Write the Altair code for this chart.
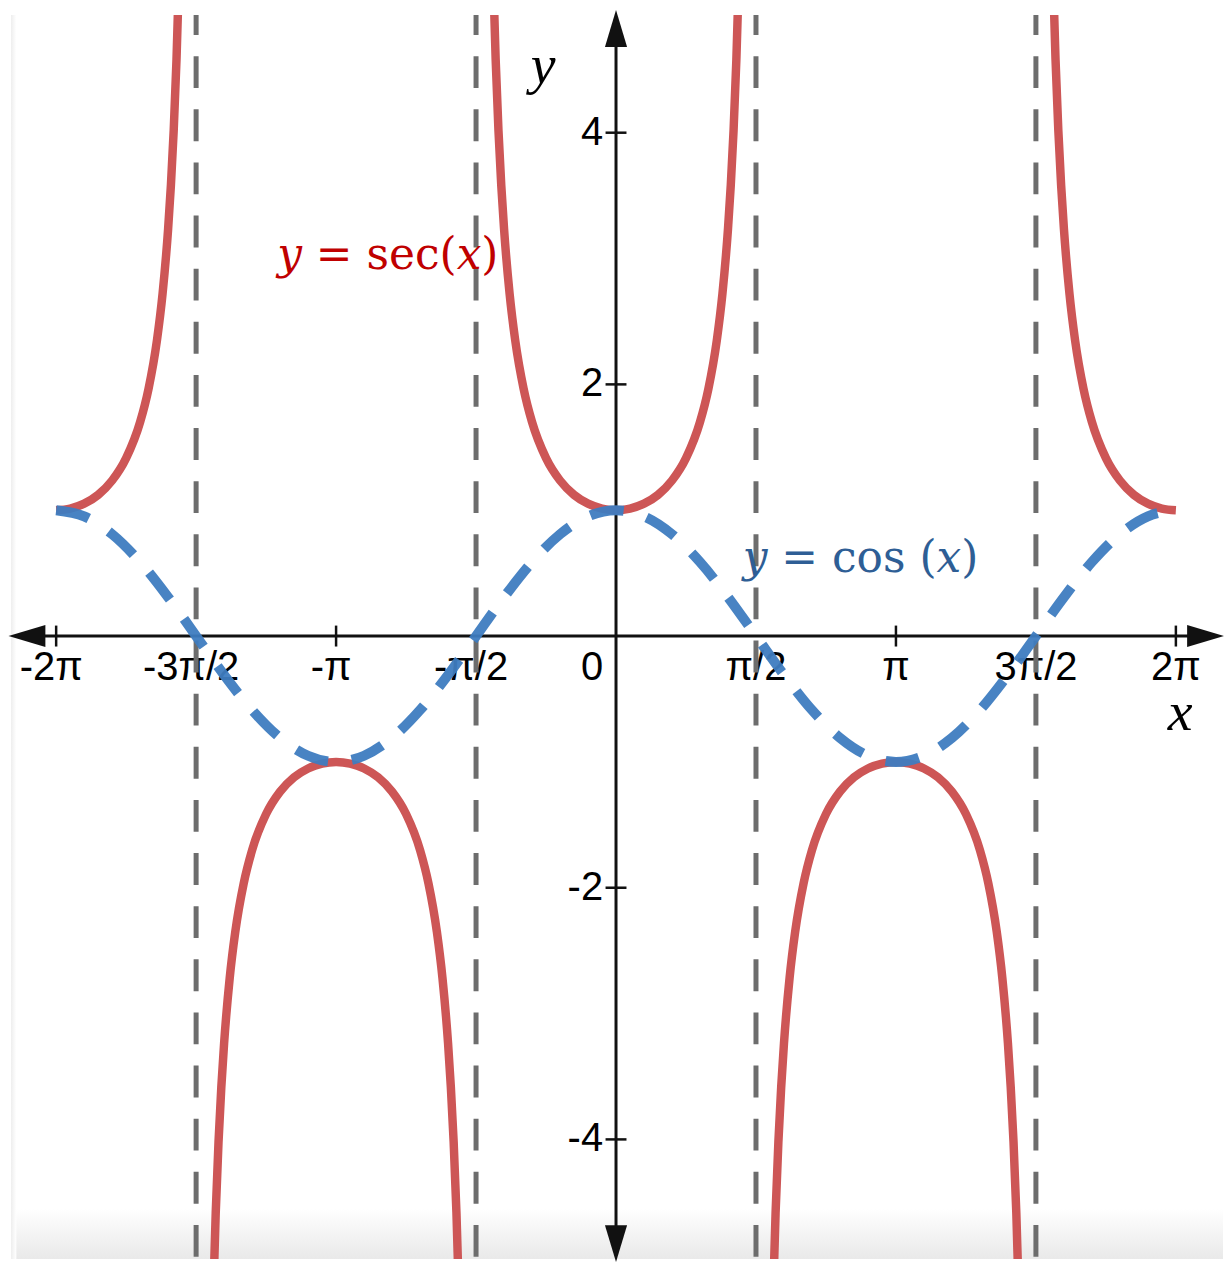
import math
import altair as alt
import pandas as pd

PI = math.pi

# visible window of the plot (data units, x in radians)
XMIN, XMAX = -6.790, 6.812
YMIN, YMAX = -4.950, 4.935

# y = cos(x), x given in multiples of pi
COS_X_PI = [-2.0, -1.9, -1.8, -1.7, -1.6, -1.5, -1.4, -1.3, -1.2, -1.1, -1.0,
            -0.9, -0.8, -0.7, -0.6, -0.5, -0.4, -0.3, -0.2, -0.1, 0.0,
            0.1, 0.2, 0.3, 0.4, 0.5, 0.6, 0.7, 0.8, 0.9, 1.0,
            1.1, 1.2, 1.3, 1.4, 1.5, 1.6, 1.7, 1.8, 1.9, 2.0]
COS_Y = [1.0, 0.951, 0.809, 0.588, 0.309, 0.0, -0.309, -0.588, -0.809, -0.951, -1.0,
         -0.951, -0.809, -0.588, -0.309, 0.0, 0.309, 0.588, 0.809, 0.951, 1.0,
         0.951, 0.809, 0.588, 0.309, 0.0, -0.309, -0.588, -0.809, -0.951, -1.0,
         -0.951, -0.809, -0.588, -0.309, 0.0, 0.309, 0.588, 0.809, 0.951, 1.0]

# y = sec(x): one branch shape (offset from branch centre in multiples of pi, |y|)
SEC_OFFSET_PI = [0.0, 0.05, 0.1, 0.15, 0.2, 0.25, 0.3, 0.33, 0.36, 0.38, 0.4, 0.41, 0.42, 0.43, 0.44, 0.45]
SEC_MAG = [1.0, 1.013, 1.052, 1.122, 1.236, 1.414, 1.701, 1.965, 2.349, 2.717, 3.236, 3.585, 4.021, 4.585, 5.336, 6.393]
SEC_BRANCH_CENTER_PI = [-2, -1, 0, 1, 2]
SEC_BRANCH_SIGN = [1, -1, 1, -1, 1]

# vertical asymptotes (multiples of pi)
ASYMPTOTES_PI = [-1.5, -0.5, 0.5, 1.5]

# axis ticks and labels
X_TICKS_PI = [-2.0, -1.0, 1.0, 2.0]
X_LABEL_PI = [-2.0, -1.5, -1.0, -0.5, 0.0, 0.5, 1.0, 1.5, 2.0]
X_LABEL_TEXT = ["-2π", "-3π/2", "-π", "-π/2", "0", "π/2", "π", "3π/2", "2π"]
Y_TICKS = [4, 2, -2, -4]
Y_LABEL_TEXT = ["4", "2", "-2", "-4"]

# ---------- tables ----------
cos_df = pd.DataFrame({"x": [v * PI for v in COS_X_PI], "y": COS_Y})

rows = []
for b, (c, s) in enumerate(zip(SEC_BRANCH_CENTER_PI, SEC_BRANCH_SIGN)):
    pts = [(-d, m) for d, m in zip(reversed(SEC_OFFSET_PI), reversed(SEC_MAG)) if d > 0]
    pts += list(zip(SEC_OFFSET_PI, SEC_MAG))
    i = 0
    for off, m in pts:
        xp = c + off
        if -2.0 - 1e-9 <= xp <= 2.0 + 1e-9:
            rows.append({"x": xp * PI, "y": s * m, "branch": b, "order": i})
            i += 1
sec_df = pd.DataFrame(rows)

asym_df = pd.DataFrame({"x": [v * PI for v in ASYMPTOTES_PI]})
xtick_df = pd.DataFrame({"x": [v * PI for v in X_TICKS_PI], "y": [0] * len(X_TICKS_PI)})
xlab_df = pd.DataFrame({"x": [v * PI for v in X_LABEL_PI], "y": [0] * len(X_LABEL_PI),
                        "v": X_LABEL_PI, "label": X_LABEL_TEXT})
ytick_df = pd.DataFrame({"x": [0] * len(Y_TICKS), "y": Y_TICKS, "label": Y_LABEL_TEXT})

xs = alt.Scale(domain=[XMIN, XMAX], nice=False, zero=False)
ys = alt.Scale(domain=[YMIN, YMAX], nice=False, zero=False)


def X(f="x"):
    return alt.X(f, type="quantitative", scale=xs, axis=None)


def Y(f="y"):
    return alt.Y(f, type="quantitative", scale=ys, axis=None)


def XD(v):
    return alt.XDatum(v, scale=xs, axis=None)


def YD(v):
    return alt.YDatum(v, scale=ys, axis=None)


base = alt.Chart(pd.DataFrame({"a": [0]}))

# faint screenshot shading at the bottom and left edges
bottom_shade = base.mark_rect(
    color=alt.Gradient(gradient="linear",
                       stops=[alt.GradientStop(color="#ffffff", offset=0),
                              alt.GradientStop(color="#e9e9e9", offset=1)],
                       x1=0, x2=0, y1=0, y2=1)
).encode(x=XD(XMIN), x2=alt.X2Datum(XMAX), y=YD(-4.55), y2=alt.Y2Datum(YMIN))

left_shade = base.mark_rect(
    color=alt.Gradient(gradient="linear",
                       stops=[alt.GradientStop(color="#eeeeee", offset=0),
                              alt.GradientStop(color="#ffffff", offset=1)],
                       x1=0, x2=1, y1=0, y2=0)
).encode(x=XD(XMIN), x2=alt.X2Datum(XMIN + 0.06), y=YD(YMIN), y2=alt.Y2Datum(YMAX))

# axes
AX = "#111111"
X_ARROW_L, X_ARROW_R = -6.611, 6.616
Y_ARROW_T, Y_ARROW_B = 4.828, -4.828
x_axis = base.mark_rule(color=AX, strokeWidth=3).encode(
    x=XD(X_ARROW_L), x2=alt.X2Datum(X_ARROW_R), y=YD(0))
y_axis = base.mark_rule(color=AX, strokeWidth=3).encode(
    x=XD(0), y=YD(Y_ARROW_T), y2=alt.Y2Datum(Y_ARROW_B))

ARROW_SIZE = 1369
arrow_up = base.mark_point(shape="M0,-1L0.6,1L-0.6,1Z", filled=True, color=AX, opacity=1,
                           size=ARROW_SIZE).encode(x=XD(0), y=YD(Y_ARROW_T))
arrow_down = base.mark_point(shape="M0,1L0.6,-1L-0.6,-1Z", filled=True, color=AX, opacity=1,
                             size=ARROW_SIZE).encode(x=XD(0), y=YD(Y_ARROW_B))
arrow_left = base.mark_point(shape="M-1,0L1,-0.6L1,0.6Z", filled=True, color=AX, opacity=1,
                             size=ARROW_SIZE).encode(x=XD(X_ARROW_L), y=YD(0))
arrow_right = base.mark_point(shape="M1,0L-1,-0.6L-1,0.6Z", filled=True, color=AX, opacity=1,
                              size=ARROW_SIZE).encode(x=XD(X_ARROW_R), y=YD(0))

xticks = alt.Chart(xtick_df).mark_tick(orient="vertical", size=21, thickness=2.5, color=AX,
                                       opacity=1).encode(x=X(), y=Y())
yticks = alt.Chart(ytick_df).mark_tick(orient="horizontal", size=21, thickness=2.5, color=AX,
                                       opacity=1).encode(x=X(), y=Y())

LABEL_FONT = "Liberation Sans"
LABEL_SIZE = 40
xlab = alt.Chart(xlab_df)
xlab_neg = xlab.transform_filter(alt.datum.v < 0).mark_text(
    font=LABEL_FONT, fontSize=LABEL_SIZE, color="#000000", align="center",
    baseline="alphabetic", dx=-5, dy=44).encode(x=X(), y=Y(), text="label:N")
xlab_pos = xlab.transform_filter(alt.datum.v > 0).mark_text(
    font=LABEL_FONT, fontSize=LABEL_SIZE, color="#000000", align="center",
    baseline="alphabetic", dy=44).encode(x=X(), y=Y(), text="label:N")
xlab_zero = xlab.transform_filter(alt.datum.v == 0).mark_text(
    font=LABEL_FONT, fontSize=LABEL_SIZE, color="#000000", align="right",
    baseline="alphabetic", dx=-13, dy=44).encode(x=X(), y=Y(), text="label:N")
ylab = alt.Chart(ytick_df).mark_text(
    font=LABEL_FONT, fontSize=LABEL_SIZE, color="#000000", align="right",
    baseline="alphabetic", dx=-13, dy=12).encode(x=X(), y=Y(), text="label:N")

# axis titles
title_y = base.mark_text(text="y", font="Liberation Serif", fontStyle="italic", fontSize=56,
                         color="#000000", align="center", baseline="alphabetic").encode(
    x=XD(-0.817), y=YD(4.396))
title_x = base.mark_text(text="x", font="Liberation Serif", fontStyle="italic", fontSize=56,
                         color="#000000", align="center", baseline="alphabetic").encode(
    x=XD(6.331), y=YD(-0.745))

# asymptotes
asym = alt.Chart(asym_df).mark_rule(color="#6d6d6d", strokeWidth=5, strokeDash=[32, 21.3],
                                    strokeDashOffset=12).encode(
    x=X(), y=YD(YMAX), y2=alt.Y2Datum(YMIN))

sec_line = alt.Chart(sec_df).mark_line(color="#cd5656", strokeWidth=8.5, clip=True,
                                       interpolate="monotone").encode(
    x=X(), y=Y(), detail="branch:N", order="order:Q")

cos_line = alt.Chart(cos_df).mark_line(color="#3e7cc0", strokeWidth=10, clip=True,
                                       strokeDash=[34, 24], strokeCap="butt",
                                       strokeOpacity=0.95, interpolate="monotone").encode(
    x=X(), y=Y())

# annotations
sec_text = base.mark_text(text="𝑦 = sec(𝑥)", font="DejaVu Serif", fontSize=44, color="#c00000",
                          align="left", baseline="alphabetic").encode(
    x=XD(-3.803), y=YD(2.915))
cos_text = base.mark_text(text="𝑦 = cos (𝑥)", font="DejaVu Serif", fontSize=44, color="#2e5e95",
                          align="left", baseline="alphabetic").encode(
    x=XD(1.421), y=YD(0.507))

chart = alt.layer(
    bottom_shade, left_shade,
    x_axis, y_axis, arrow_up, arrow_down, arrow_left, arrow_right,
    xticks, yticks, xlab_neg, xlab_pos, xlab_zero, ylab, title_y, title_x,
    asym, sec_line, cos_line, sec_text, cos_text,
).properties(width=1216, height=1248, padding=0, background="#ffffff").configure_view(stroke=None)

chart.save("out.html", embed_options={"renderer": "svg", "actions": False})
